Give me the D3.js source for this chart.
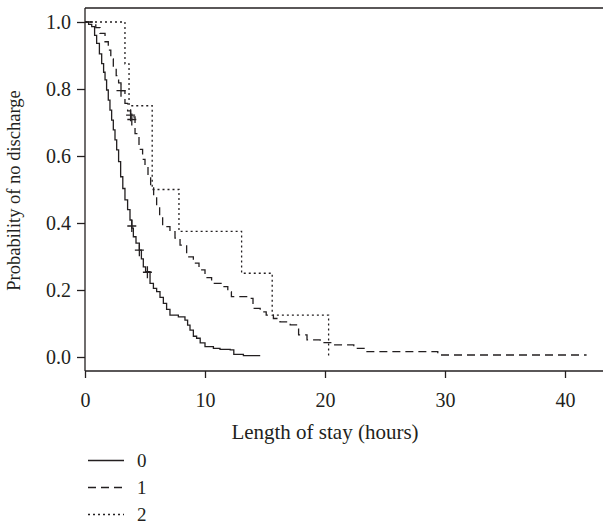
<!DOCTYPE html>
<html>
<head>
<meta charset="utf-8">
<script src="https://cdn.jsdelivr.net/npm/d3@7"></script>
<style>
  body { margin: 0; background: #fff; }
  text { font-family: "Liberation Serif", "Times New Roman", serif; fill: #231f20; }
</style>
</head>
<body>
<div id="chartContainer"></div>
<script>
// km estimates: [time in hours, probability]
var group0 = [
    [0, 1.0], [0.3, 0.993], [0.56, 0.986], [0.8, 0.96], [0.97, 0.936], [1.2, 0.905],
    [1.39, 0.876], [1.55, 0.85], [1.67, 0.827], [1.8, 0.797], [1.94, 0.767], [2.08, 0.737],
    [2.22, 0.707], [2.36, 0.678], [2.5, 0.648], [2.64, 0.618], [2.8, 0.583], [2.97, 0.538],
    [3.15, 0.503], [3.33, 0.469], [3.55, 0.44], [3.75, 0.409], [3.9, 0.385], [4.03, 0.359],
    [4.25, 0.34], [4.53, 0.319], [4.7, 0.293], [4.86, 0.269], [5.05, 0.255], [5.42, 0.22],
    [5.7, 0.205], [5.97, 0.195], [6.25, 0.178], [6.53, 0.16], [6.8, 0.142], [7.08, 0.125],
    [7.78, 0.12], [8.33, 0.11], [8.55, 0.095], [8.75, 0.08], [9.03, 0.062], [9.3, 0.056],
    [9.6, 0.042], [10.0, 0.031], [10.7, 0.026], [11.25, 0.023], [12.1, 0.021], [12.4, 0.008],
    [13.2, 0.004], [14.6, 0.004]
];
var group1 = [
    [0, 1.0], [0.9, 0.983], [1.25, 0.966], [1.67, 0.941], [1.94, 0.916], [2.15, 0.89],
    [2.36, 0.866], [2.6, 0.84], [2.8, 0.818], [3.0, 0.795], [3.33, 0.757], [3.55, 0.735],
    [3.8, 0.717], [4.17, 0.667], [4.5, 0.62], [4.8, 0.59], [5.0, 0.568], [5.25, 0.538],
    [5.47, 0.508], [5.72, 0.478], [5.97, 0.449], [6.22, 0.42], [6.47, 0.389], [7.08, 0.374],
    [7.5, 0.355], [7.92, 0.334], [8.47, 0.299], [9.03, 0.28], [9.5, 0.26], [10.0, 0.237],
    [10.55, 0.22], [11.5, 0.21], [11.9, 0.195], [12.2, 0.18], [13.6, 0.175], [14.0, 0.145],
    [14.6, 0.135], [15.1, 0.125], [15.7, 0.115], [16.25, 0.105], [17.1, 0.096], [17.8, 0.066],
    [18.5, 0.051], [19.6, 0.043], [20.7, 0.036], [22.4, 0.026], [23.5, 0.016], [29.4, 0.006],
    [41.8, 0.006]
];
var group2 = [
    [0, 1.0], [3.33, 0.875], [3.67, 0.75], [5.6, 0.5], [7.83, 0.375], [13.05, 0.25],
    [15.6, 0.125], [20.3, 0.0]
];

// censored observations (the little + marks)
var censor0 = [[3.9, 0.391], [4.53, 0.319], [5.2, 0.253]];
var censor1 = [[3.0, 0.795], [3.8, 0.722], [3.9, 0.709]];

var groupNames = ["0", "1", "2"];
var dashes = [null, "8,5", "2,3"];

var xTicks = [0, 10, 20, 30, 40];
var yTicks = [0, 0.2, 0.4, 0.6, 0.8, 1.0];

var xLabel = "Length of stay (hours)";
var yLabel = "Probability of no discharge";

var ink = "#231f20";

//------DRAW------\\
var width = 603,
    height = 525;

var svg = d3.select("#chartContainer").append("svg")
    .attr("width", width)
    .attr("height", height);

// scales (0..40 h spans 85..565 px)
var x = d3.scaleLinear()
    .domain([0, 40])
    .range([85, 565]);
var y = d3.scaleLinear()
    .domain([0, 1])
    .range([357, 22]);

var plotTop = 8,
    plotBottom = 371,
    plotLeft = 85,
    plotRight = width;

// frame: top line and the two axis lines
svg.append("line")
    .attr("x1", plotLeft).attr("x2", plotRight)
    .attr("y1", plotTop).attr("y2", plotTop)
    .style("stroke", ink).style("stroke-width", 1.3);

var xAxis = d3.axisBottom(x)
    .tickValues(xTicks)
    .tickSize(7)
    .tickPadding(15)
    .tickFormat(d3.format("d"));

var gx = svg.append("g")
    .attr("transform", "translate(0," + plotBottom + ")")
    .call(xAxis);
gx.select(".domain").remove();
gx.append("line")
    .attr("x1", plotLeft).attr("x2", plotRight)
    .style("stroke", ink).style("stroke-width", 1.3);

var yAxis = d3.axisLeft(y)
    .tickValues(yTicks)
    .tickSize(8)
    .tickPadding(6)
    .tickFormat(d3.format(".1f"));

var gy = svg.append("g")
    .attr("transform", "translate(" + plotLeft + ",0)")
    .call(yAxis);
gy.select(".domain").remove();
gy.append("line")
    .attr("y1", plotTop).attr("y2", plotBottom)
    .style("stroke", ink).style("stroke-width", 1.3);

svg.selectAll(".tick line")
    .style("stroke", ink)
    .style("stroke-width", 1.3);
svg.selectAll(".tick text")
    .style("font-size", "20px")
    .style("font-family", "Liberation Serif, serif")
    .style("fill", ink);

// axis titles
svg.append("text")
    .attr("x", x(20))
    .attr("y", 439)
    .attr("text-anchor", "middle")
    .style("font-size", "21px")
    .text(xLabel);

svg.append("text")
    .attr("transform", "translate(20," + (y(0.5) + 1) + ") rotate(-90)")
    .attr("text-anchor", "middle")
    .style("font-size", "18.5px")
    .text(yLabel);

// survival curves
var line = d3.line()
    .x(function(d) { return x(d[0]); })
    .y(function(d) { return y(d[1]); })
    .curve(d3.curveStepAfter);

[group0, group1, group2].forEach(function(g, i) {
    svg.append("path")
        .datum(g)
        .attr("d", line)
        .style("fill", "none")
        .style("stroke", ink)
        .style("stroke-width", 1.3)
        .style("stroke-dasharray", dashes[i]);
});

// censor marks
svg.append("g").selectAll(".censor")
    .data(censor0.concat(censor1))
    .enter().append("path")
    .attr("class", "censor")
    .attr("transform", function(d) {
        return "translate(" + x(d[0]) + "," + y(d[1]) + ")";
    })
    .attr("d", "M-4.5,0H4.5M0,-6V6")
    .style("stroke", ink)
    .style("stroke-width", 1.3);

// legend
var legend = svg.append("g").selectAll(".legendItem")
    .data(groupNames)
    .enter().append("g")
    .attr("class", "legendItem")
    .attr("transform", function(d, i) { return "translate(88," + (460.5 + i * 27) + ")"; });

legend.append("line")
    .attr("x1", 0).attr("x2", 36)
    .style("stroke", ink)
    .style("stroke-width", 1.3)
    .style("stroke-dasharray", function(d, i) { return dashes[i]; });

legend.append("text")
    .attr("x", 49)
    .attr("dy", "0.33em")
    .style("font-size", "19px")
    .text(function(d) { return d; });
</script>
</body>
</html>
